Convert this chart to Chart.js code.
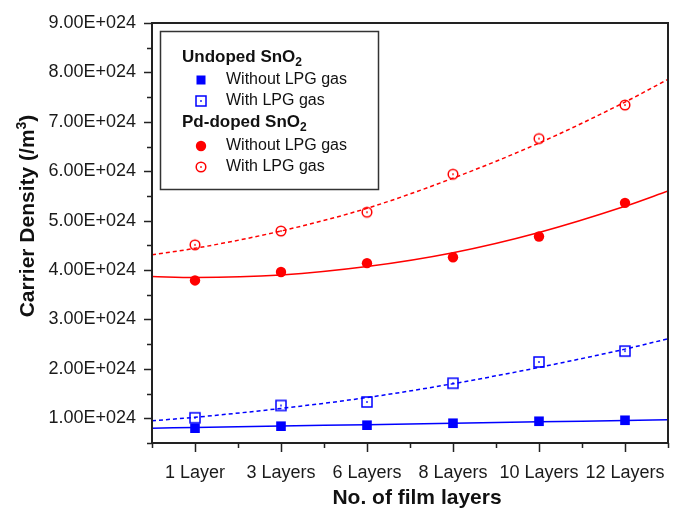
<!DOCTYPE html>
<html>
<head>
<meta charset="utf-8">
<script src="https://cdn.jsdelivr.net/npm/chart.js@4"></script>
<style>
  body { margin: 0; background: #fff; }
  #wrap { width: 675px; height: 509px; }
</style>
</head>
<body>
<div id="wrap"><canvas id="myChart" width="675" height="509"></canvas></div>
<script>
// values in units of 1E+024 /m^3
const layers = ['1 Layer', '3 Layers', '6 Layers', '8 Layers', '10 Layers', '12 Layers'];
const undopedWithout = [0.80, 0.84, 0.86, 0.90, 0.94, 0.96];
const undopedWith = [1.01, 1.26, 1.33, 1.71, 2.14, 2.36];
const pdWithout = [3.79, 3.96, 4.14, 4.26, 4.68, 5.36];
const pdWith = [4.51, 4.79, 5.17, 5.94, 6.66, 7.34];

// fitted curves
const fitX = [-0.5, 0, 1, 2, 3, 4, 5, 5.5];
const undopedWithoutFit = [0.80, 0.815, 0.845, 0.87, 0.90, 0.93, 0.955, 0.97];
const undopedWithFit = [0.95, 1.02, 1.20, 1.42, 1.70, 2.03, 2.40, 2.61];
const pdWithoutFit = [3.87, 3.85, 3.90, 4.07, 4.35, 4.76, 5.29, 5.60];
const pdWithFit = [4.31, 4.44, 4.79, 5.25, 5.86, 6.57, 7.40, 7.86];

const yMin = 0.5, yMax = 9;
const BLUE = '#0000ff', RED = '#ff0000', INK = '#222';
const FONT = '"Liberation Sans", Arial, sans-serif';

function openSymbol(color, shape) {
    const c = document.createElement('canvas');
    c.width = 14; c.height = 14;
    const g = c.getContext('2d');
    g.strokeStyle = color; g.fillStyle = color; g.lineWidth = 1.5;
    if (shape === 'square') {
        g.strokeRect(2, 2, 10, 10);
    } else {
        g.beginPath(); g.arc(7, 7, 4.8, 0, Math.PI * 2); g.stroke();
    }
    g.fillRect(6.2, 6.2, 1.6, 1.6);
    return c;
}
const openSquare = openSymbol(BLUE, 'square');
const openCircle = openSymbol(RED, 'circle');

const pts = arr => arr.map((v, i) => ({x: i, y: v}));
const curve = arr => arr.map((v, i) => ({x: fitX[i], y: v}));

function fitSet(arr, color, dashed) {
    return {
        type: 'line', data: curve(arr), borderColor: color, borderWidth: 1.5,
        borderDash: dashed ? [4, 3] : [], pointRadius: 0, fill: false,
        cubicInterpolationMode: 'monotone'
    };
}
function markSet(arr, color, style, r) {
    return {
        type: 'scatter', data: pts(arr), showLine: false, pointStyle: style,
        pointRadius: r, backgroundColor: color, borderColor: color, borderWidth: 0
    };
}

const extras = {
    id: 'extras',
    afterDraw(chart) {
        const ctx = chart.ctx;
        const a = chart.chartArea;
        const xs = chart.scales.x, ys = chart.scales.y;
        ctx.save();
        // frame
        ctx.strokeStyle = INK;
        ctx.lineWidth = 2;
        ctx.strokeRect(a.left, a.top, a.right - a.left, a.bottom - a.top);
        // ticks
        ctx.lineWidth = 1.5;
        ctx.beginPath();
        for (let v = yMin; v <= yMax + 1e-9; v += 0.5) {
            const y = Math.round(ys.getPixelForValue(v)) + 0.5;
            const len = Number.isInteger(v) ? 8 : 5;
            ctx.moveTo(a.left - len, y); ctx.lineTo(a.left, y);
        }
        for (let v = -0.5; v <= 5.5 + 1e-9; v += 0.5) {
            const x = Math.round(xs.getPixelForValue(v)) + 0.5;
            const len = Number.isInteger(v) ? 9 : 5;
            ctx.moveTo(x, a.bottom); ctx.lineTo(x, a.bottom + len);
        }
        ctx.stroke();

        // axis titles
        ctx.fillStyle = '#111';
        ctx.font = 'bold 21px ' + FONT;
        ctx.textAlign = 'center';
        ctx.textBaseline = 'alphabetic';
        ctx.fillText('No. of film layers', 417, 504);

        ctx.translate(34, 216);
        ctx.rotate(-Math.PI / 2);
        const t1 = 'Carrier Density (/m', t2 = '3', t3 = ')';
        const w1 = ctx.measureText(t1).width, w3 = ctx.measureText(t3).width;
        ctx.font = 'bold 14px ' + FONT;
        const w2 = ctx.measureText(t2).width;
        let x0 = -(w1 + w2 + w3) / 2;
        ctx.textAlign = 'left';
        ctx.font = 'bold 21px ' + FONT;
        ctx.fillText(t1, x0, 0);
        ctx.font = 'bold 14px ' + FONT;
        ctx.fillText(t2, x0 + w1, -8);
        ctx.font = 'bold 21px ' + FONT;
        ctx.fillText(t3, x0 + w1 + w2, 0);
        ctx.restore();

        // legend
        ctx.save();
        ctx.fillStyle = '#fff';
        ctx.fillRect(160, 31, 219, 159);
        ctx.strokeStyle = '#333';
        ctx.lineWidth = 1.5;
        ctx.strokeRect(160.5, 31.5, 218, 158);
        ctx.textBaseline = 'middle';
        ctx.textAlign = 'left';
        ctx.fillStyle = '#111';
        const heading = (txt, y) => {
            ctx.font = 'bold 17px ' + FONT;
            ctx.fillText(txt, 182, y);
            const w = ctx.measureText(txt).width;
            ctx.font = 'bold 12px ' + FONT;
            ctx.fillText('2', 182 + w, y + 6);
        };
        const item = (txt, y, draw) => {
            draw(201, y);
            ctx.fillStyle = '#111';
            ctx.font = '16px ' + FONT;
            ctx.fillText(txt, 226, y);
        };
        heading('Undoped SnO', 57);
        item('Without LPG gas', 80, (x, y) => { ctx.fillStyle = BLUE; ctx.fillRect(x - 4.5, y - 4.5, 9, 9); });
        item('With LPG gas', 101, (x, y) => { ctx.drawImage(openSquare, x - 7, y - 7); });
        heading('Pd-doped SnO', 122);
        item('Without LPG gas', 146, (x, y) => { ctx.fillStyle = RED; ctx.beginPath(); ctx.arc(x, y, 5.2, 0, Math.PI * 2); ctx.fill(); });
        item('With LPG gas', 167, (x, y) => { ctx.drawImage(openCircle, x - 7, y - 7); });
        ctx.restore();
    }
};

const ctx = document.getElementById('myChart');

const chart = new Chart(ctx, {
    type: 'scatter',
    data: {
        datasets: [
            fitSet(undopedWithoutFit, BLUE, false),
            fitSet(undopedWithFit, BLUE, true),
            fitSet(pdWithoutFit, RED, false),
            fitSet(pdWithFit, RED, true),
            markSet(undopedWithout, BLUE, 'rect', 6.8),
            markSet(undopedWith, BLUE, openSquare, 7),
            markSet(pdWithout, RED, 'circle', 5.2),
            markSet(pdWith, RED, openCircle, 7)
        ]
    },
    options: {
        responsive: false,
        animation: false,
        layout: { padding: { left: 0, top: 23, right: 7, bottom: 0 } },
        plugins: { legend: { display: false }, tooltip: { enabled: false } },
        scales: {
            x: {
                type: 'linear', min: -0.5, max: 5.5,
                afterFit(scale) { scale.height = 66; scale.paddingLeft = 0; scale.paddingRight = 0; },
                border: { display: false },
                grid: { display: false, drawTicks: true, tickLength: 9 },
                ticks: {
                    stepSize: 0.5, autoSkip: false, maxRotation: 0, padding: 10,
                    color: '#1a1a1a', font: { family: FONT, size: 18 },
                    callback: v => Number.isInteger(v) ? layers[v] : ''
                }
            },
            y: {
                min: yMin, max: yMax,
                afterFit(scale) { scale.width = 152; scale.paddingTop = 0; scale.paddingBottom = 0; },
                border: { display: false },
                grid: { display: false, drawTicks: true, tickLength: 8 },
                ticks: {
                    stepSize: 0.5, autoSkip: false, padding: 8,
                    color: '#1a1a1a', font: { family: FONT, size: 18 },
                    callback: v => Number.isInteger(v) ? v.toFixed(2) + 'E+024' : ''
                }
            }
        }
    },
    plugins: [extras]
});
</script>
</body>
</html>
